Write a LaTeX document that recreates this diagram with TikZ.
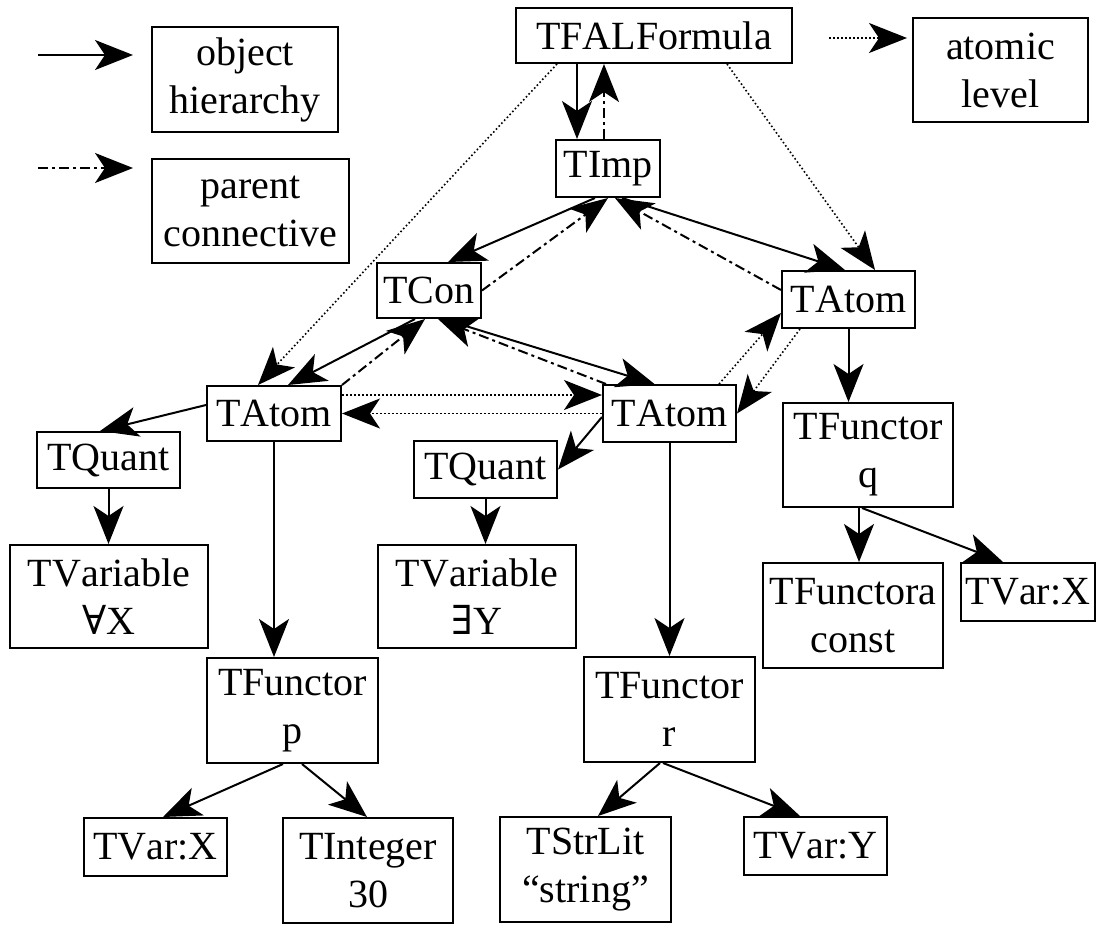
\documentclass[tikz,border=0pt]{standalone}
\usepackage{fontspec}
\setmainfont[Kerning=Off]{Liberation Serif}
\newfontfamily\quantfont{DejaVu Serif}
\usepackage{tikz}
\usetikzlibrary{arrows.meta,calc}

\begin{document}
\begin{tikzpicture}[x=1pt,y=-1pt,font=\fontsize{40}{48}\selectfont,
  >={Stealth[length=38pt,width=30pt,inset=10pt]},
  box/.style={draw,line width=2pt,inner sep=0pt,align=center},
  hier/.style={->,line width=2pt},
  parent/.style={->,line width=2pt,dash pattern=on 10pt off 4pt on 3pt off 4pt},
  atomic/.style={->,line width=1.6pt,dash pattern=on 1.6pt off 2.4pt}]
\useasboundingbox (0,0) rectangle (1097,924);
% key
\coordinate (hierfrom) at (38,55);
\coordinate (hierto) at (133,55);
\coordinate (parentfrom) at (38,168);
\coordinate (parentto) at (133,168);
\coordinate (atomfrom) at (829,38);
\coordinate (atomto) at (907,38);
\node[box,minimum width=186pt,minimum height=105pt] (hierkey) at (245,79.5) {object\\hierarchy};
\node[box,minimum width=197pt,minimum height=104pt] (parentkey) at (250.5,211) {parent\\connective};
\node[box,minimum width=175pt,minimum height=104pt] (atomkey) at (1000.5,70) {atomic\\level};
\draw[hier] (hierfrom) -- (hierto);
\draw[parent] (parentfrom) -- (parentto);
\draw[atomic] (atomfrom) -- (atomto);
% formula tree
\node[box,minimum width=276pt,minimum height=55pt] (fal) at (654,35.5) {TFALFormula};
\node[box,minimum width=104pt,minimum height=57pt] (imp) at (608,168.5) {TImp};
\node[box,minimum width=104pt,minimum height=55pt] (con) at (429,290.5) {TCon};
\node[box,minimum width=133pt,minimum height=57pt] (atomR) at (848.5,299.5) {TAtom};
\node[box,minimum width=134pt,minimum height=55pt] (atomL) at (274,413.5) {TAtom};
\node[box,minimum width=133pt,minimum height=57pt] (atomM) at (669.5,413.5) {TAtom};
\node[box,minimum width=143pt,minimum height=56pt] (quantL) at (108.5,460) {TQuant};
\node[box,minimum width=143pt,minimum height=57pt] (quantM) at (485.5,469.5) {TQuant};
\node[box,minimum width=198pt,minimum height=103pt] (varA) at (109,596.5) {TVariable\\{\quantfont ∀}X};
\node[box,minimum width=198pt,minimum height=103pt] (varE) at (477,596.5) {TVariable\\{\quantfont ∃}Y};
\node[box,minimum width=170pt,minimum height=104pt] (funq) at (868,455) {TFunctor\\q};
\node[box,minimum width=171pt,minimum height=105pt] (funp) at (292.5,710.5) {TFunctor\\p};
\node[box,minimum width=171pt,minimum height=105pt] (funr) at (669.5,709.5) {TFunctor\\r};
\node[box,minimum width=180pt,minimum height=105pt] (fconst) at (853,615.5) {TFunctora\\const};
\node[box,minimum width=134pt,minimum height=58pt] (varXr) at (1028,592) {TVar:X};
\node[box,minimum width=143pt,minimum height=58pt] (varXl) at (155.5,847) {TVar:X};
\node[box,minimum width=170pt,minimum height=105pt] (intg) at (368,870.5) {TInteger\\30};
\node[box,minimum width=171pt,minimum height=105pt] (strl) at (585.5,869.5) {TStrLit\\``string''};
\node[box,minimum width=143pt,minimum height=58pt] (varY) at (815.5,846) {TVar:Y};
% object hierarchy
\draw[hier] ($(fal.south)+(-77,0)$) -- ($(imp.north)+(-31,0)$);
\draw[hier] ($(imp.south)+(-13,0)$) -- ($(con.north)+(19,0)$);
\draw[hier] ($(imp.south)+(14,0)$) -- ($(atomR.north)+(-3.5,0)$);
\draw[hier] ($(con.south)+(-14,0)$) -- ($(atomL.north)+(14,0)$);
\draw[hier] ($(con.south)+(14,0)$) -- ($(atomM.north)+(-15,0)$);
\draw[hier] ($(atomL.west)+(0,-8.5)$) -- ($(quantL.north)+(-8.5,0)$);
\draw[hier] ($(atomM.west)+(0,3.5)$) -- (quantM.east);
\draw[hier] (atomL.south) -- (atomL.south |- funp.north);
\draw[hier] (atomM.south) -- (atomM.south |- funr.north);
\draw[hier] (atomR.south) -- (atomR.south |- funq.north);
\draw[hier] (quantL.south) -- (quantL.south |- varA.north);
\draw[hier] (quantM.south) -- (quantM.south |- varE.north);
\draw[hier] ($(funq.south)+(-9,0)$) -- ($(fconst.north)+(6,0)$);
\draw[hier] ($(funq.south)+(-6,0)$) -- ($(varXr.north)+(-25,0)$);
\draw[hier] ($(funp.south)+(-9.5,0)$) -- ($(varXl.north)+(7.5,0)$);
\draw[hier] ($(funp.south)+(9.5,0)$) -- ($(intg.north)+(-1,0)$);
\draw[hier] ($(funr.south)+(-9.5,0)$) -- ($(strl.north)+(12.5,0)$);
\draw[hier] ($(funr.south)+(-6.5,0)$) -- ($(varY.north)+(-15.5,0)$);
% parent connective
\draw[parent] ($(imp.north)+(-4,0)$) -- ($(fal.south)+(-50,0)$);
\draw[parent] (con.east) -- ($(imp.south)+(0,0)$);
\draw[parent] ($(atomR.west)+(0,-9.5)$) -- ($(imp.south)+(7,0)$);
\draw[parent] (atomL.north east) -- ($(con.south)+(-4,0)$);
\draw[parent] ($(atomM.north west)+(4,0)$) -- ($(con.south)+(9,0)$);
% atomic level
\draw[atomic] ($(fal.south)+(-97,0)$) -- ($(atomL.north)+(-16,0)$);
\draw[atomic] ($(fal.south)+(73,0)$) -- ($(atomR.north)+(26.5,0)$);
\draw[atomic] ($(atomL.east)+(0,-18.5)$) -- ($(atomM.west)+(0,-18.5)$);
\draw[atomic] (atomM.west) -- (atomL.east);
\draw[atomic] ($(atomM.north)+(49.5,0)$) -- ($(atomR.west)+(0,13.5)$);
\draw[atomic] ($(atomR.south)+(-48.5,0)$) -- (atomM.east);
\end{tikzpicture}
\end{document}
